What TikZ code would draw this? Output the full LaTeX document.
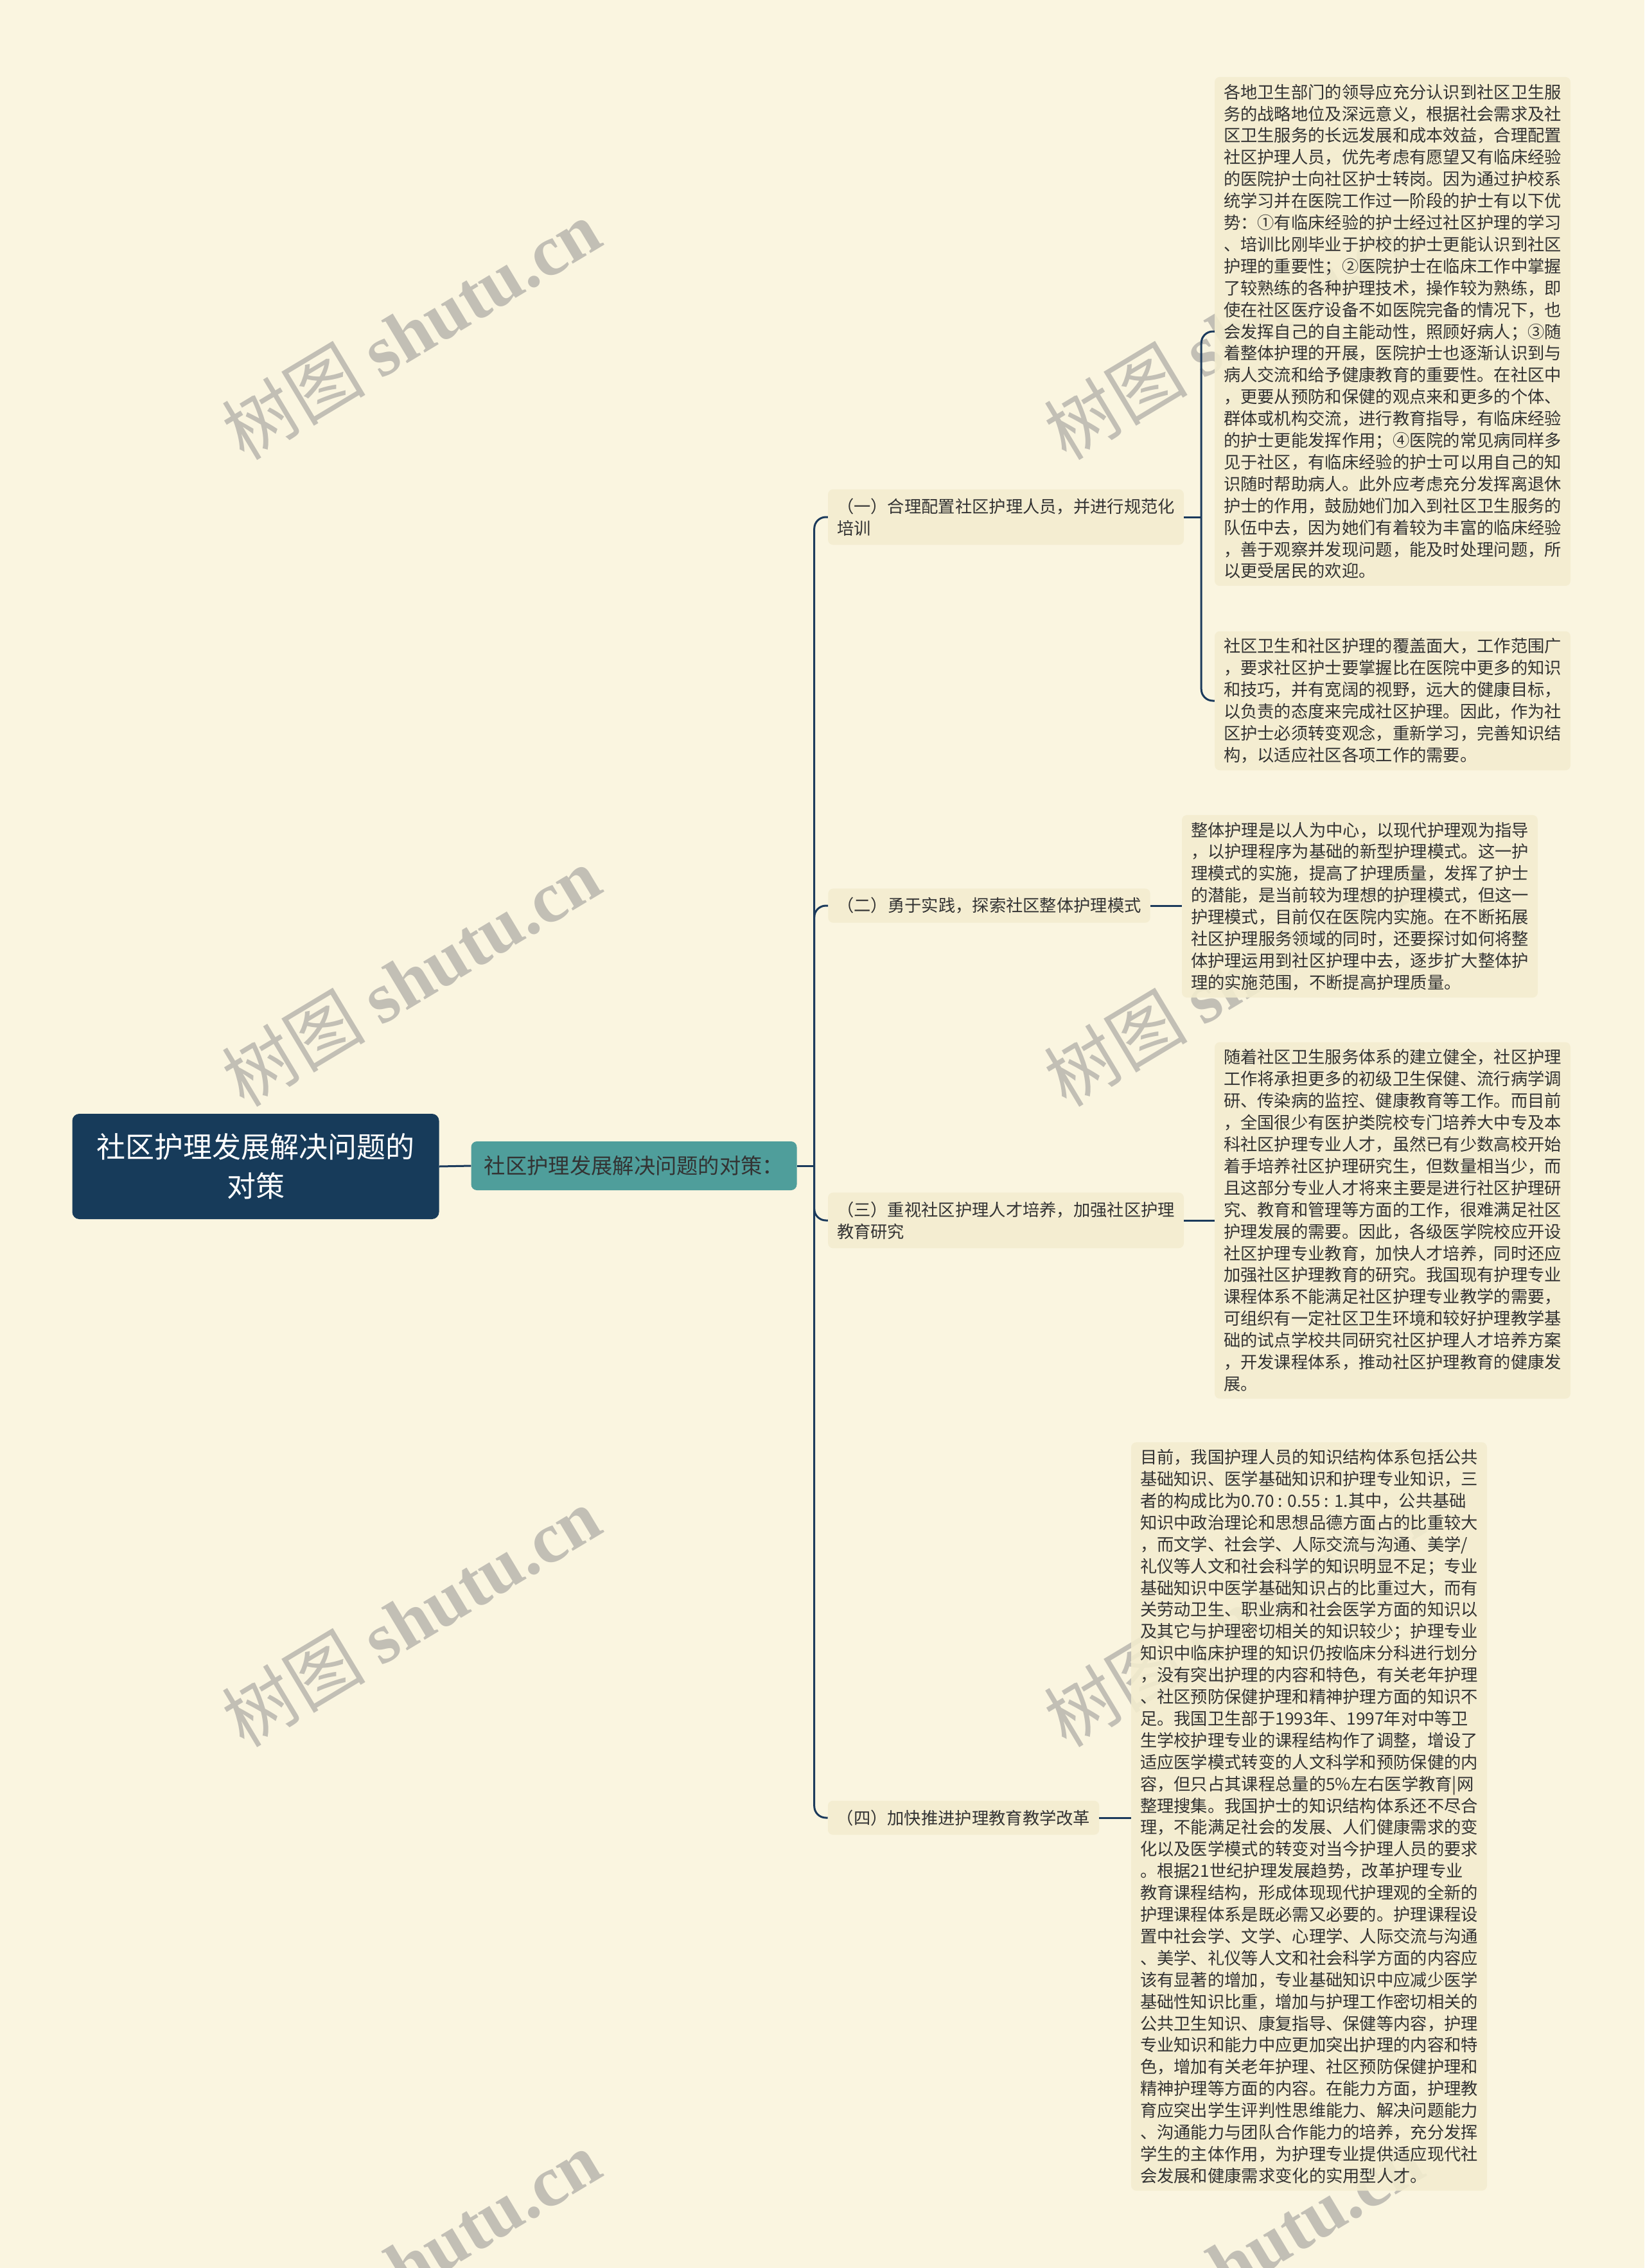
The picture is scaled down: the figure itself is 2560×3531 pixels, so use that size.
\documentclass[tikz,border=0pt]{standalone}
\usepackage{fontspec}
\setmainfont{Noto Sans CJK SC}
\newfontfamily\wmlatin{Liberation Serif}
\definecolor{bgc}{HTML}{FAF5E0}
\definecolor{boxc}{HTML}{F4EDCF}
\definecolor{rootc}{HTML}{173B5A}
\definecolor{tealc}{HTML}{4F9E9B}
\definecolor{linec}{HTML}{1B3A5C}
\definecolor{txtc}{HTML}{333333}
\definecolor{wmc}{HTML}{C2BFB5}
\begin{document}
\begin{tikzpicture}[x=1pt,y=-1pt,
  leaf/.style={fill=boxc, fill opacity=0.88, text opacity=1, rounded corners=8pt, align=left,
    inner xsep=14pt, inner ysep=11pt, text=txtc, font=\fontsize{26.3}{33.9}\selectfont},
  branch/.style={leaf, inner ysep=14pt},
  conn/.style={draw=linec, line width=3pt, rounded corners=18pt},
  wm/.style={text=wmc, rotate=31, font=\fontsize{112}{116}\selectfont, inner sep=0pt}
]
\useasboundingbox (0,0) rectangle (2560,3531);
\fill[bgc] (0,0) rectangle (2560,3531);

% watermarks
\node[wm] (wm1) at (640,513) {树图 {\wmlatin\bfseries shutu.cn}};
\node[wm] (wm2) at (640,1520) {树图 {\wmlatin\bfseries shutu.cn}};
\node[wm] (wm3) at (640,2517) {树图 {\wmlatin\bfseries shutu.cn}};
\node[wm] (wm4) at (640,3519) {树图 {\wmlatin\bfseries shutu.cn}};
\node[wm] (wm5) at (1920,513) {树图 {\wmlatin\bfseries shutu.cn}};
\node[wm] (wm6) at (1920,1520) {树图 {\wmlatin\bfseries shutu.cn}};
\node[wm] (wm7) at (1920,2517) {树图 {\wmlatin\bfseries shutu.cn}};
\node[wm] (wm8) at (1920,3519) {树图 {\wmlatin\bfseries shutu.cn}};

% root and level 1
\node[fill=rootc, rounded corners=11pt, minimum width=571pt, minimum height=164pt,
  align=center, text=white, font=\fontsize{45}{61}\selectfont] (root) at (398,1816)
  {社区护理发展解决问题的\\对策};
\node[fill=tealc, rounded corners=9pt, minimum width=507pt, minimum height=76pt,
  text=txtc, font=\fontsize{33.3}{40}\selectfont] (l1) at (987,1815)
  {社区护理发展解决问题的对策：};

% branches
\node[branch] (b1) at (1566,805) {（一）合理配置社区护理人员，并进行规范化\\培训};
\node[branch] (b2) at (1540,1410) {（二）勇于实践，探索社区整体护理模式};
\node[branch] (b3) at (1566,1900) {（三）重视社区护理人才培养，加强社区护理\\教育研究};
\node[branch] (b4) at (1500,2830) {（四）加快推进护理教育教学改革};

% leaves
\node[leaf] (lf1) at (2168,516) {各地卫生部门的领导应充分认识到社区卫生服\\
务的战略地位及深远意义，根据社会需求及社\\
区卫生服务的长远发展和成本效益，合理配置\\
社区护理人员，优先考虑有愿望又有临床经验\\
的医院护士向社区护士转岗。因为通过护校系\\
统学习并在医院工作过一阶段的护士有以下优\\
势：①有临床经验的护士经过社区护理的学习\\
、培训比刚毕业于护校的护士更能认识到社区\\
护理的重要性；②医院护士在临床工作中掌握\\
了较熟练的各种护理技术，操作较为熟练，即\\
使在社区医疗设备不如医院完备的情况下，也\\
会发挥自己的自主能动性，照顾好病人；③随\\
着整体护理的开展，医院护士也逐渐认识到与\\
病人交流和给予健康教育的重要性。在社区中\\
，更要从预防和保健的观点来和更多的个体、\\
群体或机构交流，进行教育指导，有临床经验\\
的护士更能发挥作用；④医院的常见病同样多\\
见于社区，有临床经验的护士可以用自己的知\\
识随时帮助病人。此外应考虑充分发挥离退休\\
护士的作用，鼓励她们加入到社区卫生服务的\\
队伍中去，因为她们有着较为丰富的临床经验\\
，善于观察并发现问题，能及时处理问题，所\\
以更受居民的欢迎。};

\node[leaf] (lf2) at (2168,1091) {社区卫生和社区护理的覆盖面大，工作范围广\\
，要求社区护士要掌握比在医院中更多的知识\\
和技巧，并有宽阔的视野，远大的健康目标，\\
以负责的态度来完成社区护理。因此，作为社\\
区护士必须转变观念，重新学习，完善知识结\\
构，以适应社区各项工作的需要。};

\node[leaf] (lf3) at (2117,1411) {整体护理是以人为中心，以现代护理观为指导\\
，以护理程序为基础的新型护理模式。这一护\\
理模式的实施，提高了护理质量，发挥了护士\\
的潜能，是当前较为理想的护理模式，但这一\\
护理模式，目前仅在医院内实施。在不断拓展\\
社区护理服务领域的同时，还要探讨如何将整\\
体护理运用到社区护理中去，逐步扩大整体护\\
理的实施范围，不断提高护理质量。};

\node[leaf] (lf4) at (2168,1900) {随着社区卫生服务体系的建立健全，社区护理\\
工作将承担更多的初级卫生保健、流行病学调\\
研、传染病的监控、健康教育等工作。而目前\\
，全国很少有医护类院校专门培养大中专及本\\
科社区护理专业人才，虽然已有少数高校开始\\
着手培养社区护理研究生，但数量相当少，而\\
且这部分专业人才将来主要是进行社区护理研\\
究、教育和管理等方面的工作，很难满足社区\\
护理发展的需要。因此，各级医学院校应开设\\
社区护理专业教育，加快人才培养，同时还应\\
加强社区护理教育的研究。我国现有护理专业\\
课程体系不能满足社区护理专业教学的需要，\\
可组织有一定社区卫生环境和较好护理教学基\\
础的试点学校共同研究社区护理人才培养方案\\
，开发课程体系，推动社区护理教育的健康发\\
展。};

\node[leaf] (lf5) at (2038,2828) {目前，我国护理人员的知识结构体系包括公共\\
基础知识、医学基础知识和护理专业知识，三\\
者的构成比为0.70 : 0.55 : 1.其中，公共基础\\
知识中政治理论和思想品德方面占的比重较大\\
，而文学、社会学、人际交流与沟通、美学/\\
礼仪等人文和社会科学的知识明显不足；专业\\
基础知识中医学基础知识占的比重过大，而有\\
关劳动卫生、职业病和社会医学方面的知识以\\
及其它与护理密切相关的知识较少；护理专业\\
知识中临床护理的知识仍按临床分科进行划分\\
，没有突出护理的内容和特色，有关老年护理\\
、社区预防保健护理和精神护理方面的知识不\\
足。我国卫生部于1993年、1997年对中等卫\\
生学校护理专业的课程结构作了调整，增设了\\
适应医学模式转变的人文科学和预防保健的内\\
容，但只占其课程总量的5\%左右医学教育|网\\
整理搜集。我国护士的知识结构体系还不尽合\\
理，不能满足社会的发展、人们健康需求的变\\
化以及医学模式的转变对当今护理人员的要求\\
。根据21世纪护理发展趋势，改革护理专业\\
教育课程结构，形成体现现代护理观的全新的\\
护理课程体系是既必需又必要的。护理课程设\\
置中社会学、文学、心理学、人际交流与沟通\\
、美学、礼仪等人文和社会科学方面的内容应\\
该有显著的增加，专业基础知识中应减少医学\\
基础性知识比重，增加与护理工作密切相关的\\
公共卫生知识、康复指导、保健等内容，护理\\
专业知识和能力中应更加突出护理的内容和特\\
色，增加有关老年护理、社区预防保健护理和\\
精神护理等方面的内容。在能力方面，护理教\\
育应突出学生评判性思维能力、解决问题能力\\
、沟通能力与团队合作能力的培养，充分发挥\\
学生的主体作用，为护理专业提供适应现代社\\
会发展和健康需求变化的实用型人才。};

% connectors
\draw[conn] (root.east) -- (l1.west);
\draw[conn] (l1.east) -- ++(27,0) coordinate (bus);
\draw[conn] (bus) |- (b1.west);
\draw[conn] (bus) |- (b2.west);
\draw[conn] (bus) |- (b3.west);
\draw[conn] (bus) |- (b4.west);
\draw[conn] (b1.east) -- ++(27,0) coordinate (bus1);
\draw[conn] (bus1) |- (lf1.west);
\draw[conn] (bus1) |- (lf2.west);
\draw[conn] (b2.east) -- (b2.east -| lf3.west);
\draw[conn] (b3.east) -- (b3.east -| lf4.west);
\draw[conn] (b4.east) -- (b4.east -| lf5.west);
\end{tikzpicture}
\end{document}
